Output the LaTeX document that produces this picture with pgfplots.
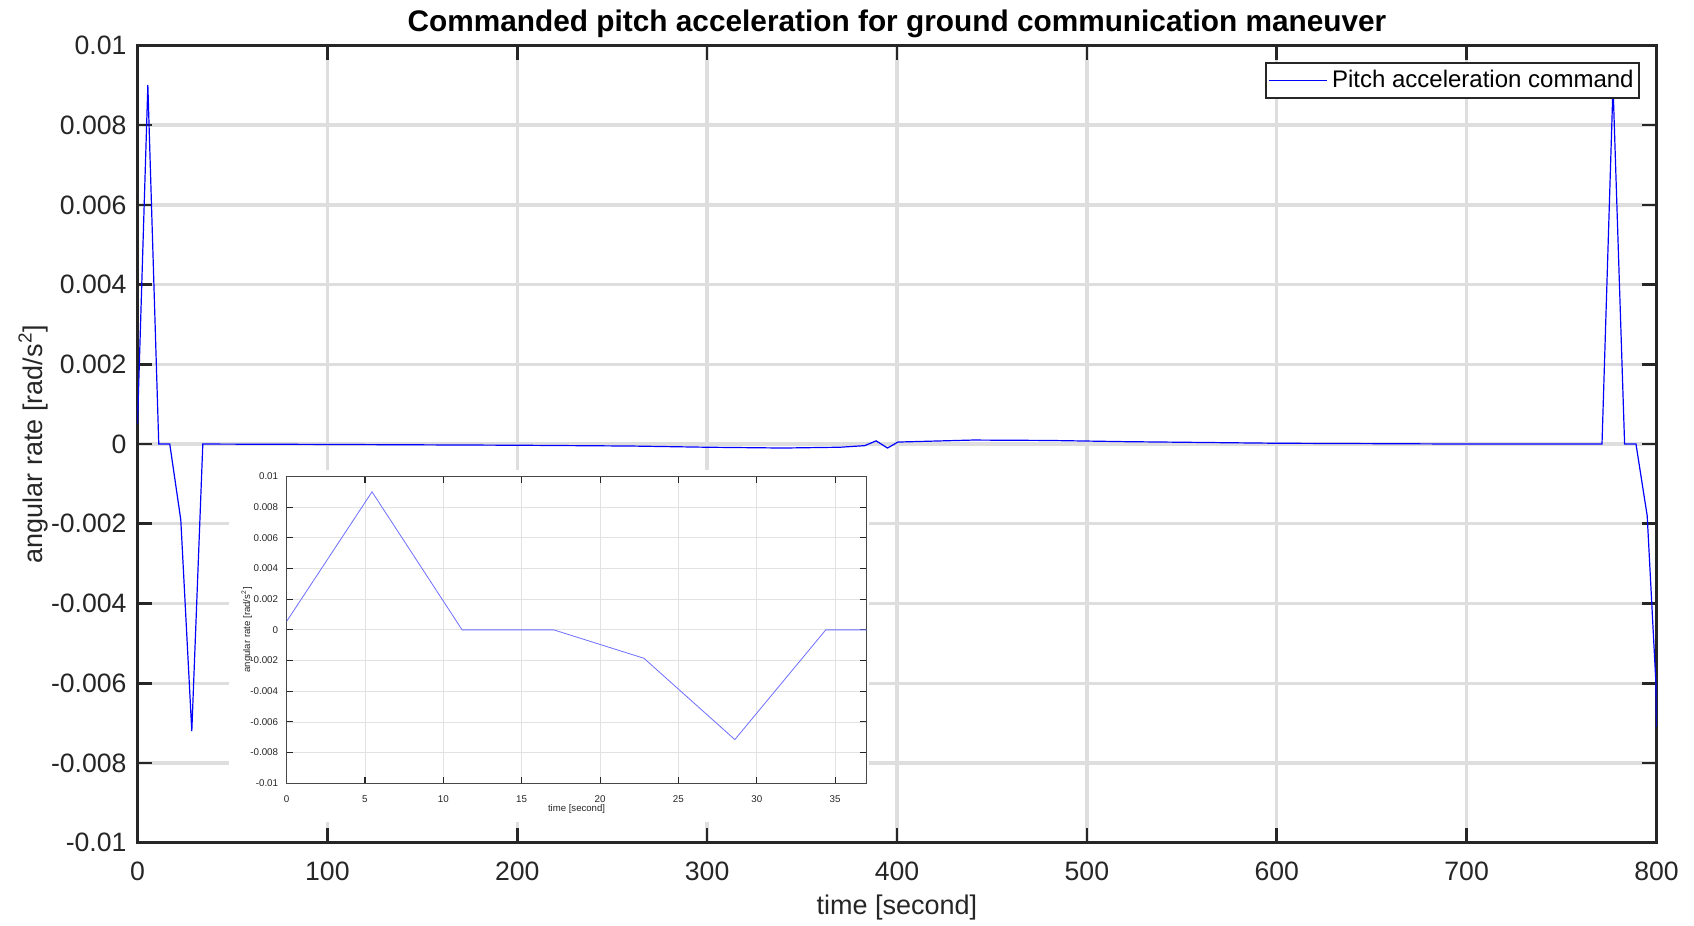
\documentclass[border=0pt]{standalone}
\usepackage{fontspec}
\setmainfont{Liberation Sans}
\usepackage{pgfplots}
\pgfplotsset{compat=1.18}
\definecolor{axgray}{RGB}{38,38,38}
\definecolor{gridgray}{RGB}{222,222,222}
\definecolor{insetgrid}{RGB}{226,226,226}
\definecolor{insetblue}{RGB}{110,110,255}
\begin{document}
\begin{tikzpicture}
\begin{axis}[
  at={(0pt,0pt)}, anchor=south west,
  scale only axis, width=759.5pt, height=398.65pt,
  xmin=0, xmax=800, ymin=-0.01, ymax=0.01,
  xtick={0,100,200,300,400,500,600,700,800},
  xticklabels={0,100,200,300,400,500,600,700,800},
  ytick={-0.01,-0.008,-0.006,-0.004,-0.002,0,0.002,0.004,0.006,0.008,0.01},
  yticklabels={-0.01,-0.008,-0.006,-0.004,-0.002,0,0.002,0.004,0.006,0.008,0.01},
  scaled x ticks=false, scaled y ticks=false,
  grid=major,
  major grid style={line width=1.65pt, color=gridgray},
  axis line style={line width=1.35pt, color=axgray},
  major tick length=7.5pt,
  tick style={line width=1.35pt, color=axgray},
  tick label style={font=\fontsize{13.3}{15}\selectfont, text=axgray},
  xticklabel style={yshift=-5.9pt},
  yticklabel style={xshift=-2pt},
  title={Commanded pitch acceleration for ground communication maneuver},
  every axis title shift=0pt,
  title style={at={(axis description cs:0.5,1.0271)}, anchor=center, font=\fontsize{14.9}{17}\selectfont\bfseries, text=black},
  xlabel={time [second]},
  ylabel={angular rate [rad/s\textsuperscript{2}]},
  every axis x label/.style={at={(axis description cs:0.5,-0.0813)}, anchor=center},
  every axis y label/.style={at={(axis description cs:-0.0688,0.5)}, rotate=90, anchor=center},
  label style={font=\fontsize{13.5}{16}\selectfont, text=axgray},
  legend style={at={(axis description cs:0.98914,0.97956)}, anchor=north east,
    draw=axgray, line width=1pt, fill=white, font=\fontsize{12}{14}\selectfont,
    inner xsep=1.5pt, inner ysep=2.6pt, nodes={inner sep=1.2pt, text=black}, column sep=1pt},
  legend image code/.code={\draw[#1] (0pt,0pt) -- (29pt,0pt);},
]
\addplot[color=blue, line width=0.6pt] coordinates {
(0,0.0005) (5.45,0.009) (11.2,0) (17.0,0) (22.8,-0.0019) (28.6,-0.0072) (34.4,0)
(100,-0.00001) (200,-0.00003) (260,-0.00005) (300,-0.00008) (340,-0.0001) (370,-0.00008)
(383,-0.00004) (389,0.00008) (395,-0.0001) (400.5,0.00005) (440,0.0001) (480,0.00009)
(520,0.00006) (600,0.00002) (700,0) (771.3,0) (777.1,0.009) (783.2,0) (789.2,0)
(795.1,-0.0018) (799.7,-0.006) (800,-0.0071)
};
\addlegendentry{Pitch acceleration command}
\end{axis}
\fill[white] (45.75pt,10.35pt) rectangle (365.5pt,186.35pt);
\begin{axis}[
  at={(74.55pt,29.7pt)}, anchor=south west,
  scale only axis, width=289.95pt, height=153.4pt,
  xmin=0, xmax=37, ymin=-0.01, ymax=0.01,
  xtick={0,5,10,15,20,25,30,35},
  xticklabels={0,5,10,15,20,25,30,35},
  ytick={-0.01,-0.008,-0.006,-0.004,-0.002,0,0.002,0.004,0.006,0.008,0.01},
  yticklabels={-0.01,-0.008,-0.006,-0.004,-0.002,0,0.002,0.004,0.006,0.008,0.01},
  scaled x ticks=false, scaled y ticks=false,
  grid=major,
  major grid style={line width=0.4pt, color=insetgrid},
  axis line style={line width=0.55pt, color=axgray!85},
  major tick length=3.3pt,
  tick style={line width=0.55pt, color=axgray},
  tick label style={font=\fontsize{4.9}{5.7}\selectfont, text=axgray},
  xticklabel style={yshift=-2.6pt},
  yticklabel style={xshift=-0.7pt},
  xlabel={time [second]},
  ylabel={angular rate [rad/s\textsuperscript{2}]},
  every axis x label/.style={at={(axis description cs:0.5,-0.0847)}, anchor=center},
  every axis y label/.style={at={(axis description cs:-0.0688,0.5)}, rotate=90, anchor=center},
  label style={font=\fontsize{4.8}{5.6}\selectfont, text=axgray},
  axis background/.style={fill=white},
]
\addplot[color=insetblue, line width=0.4pt] coordinates {
(0,0.00055) (5.45,0.009) (11.2,0) (17.05,0) (22.8,-0.00185) (28.6,-0.00715) (34.4,0) (37,0)
};
\end{axis}
\pgfresetboundingbox
\path[use as bounding box] (-68.75pt,-41.65pt) rectangle (778.25pt,421.35pt);
\end{tikzpicture}
\end{document}
